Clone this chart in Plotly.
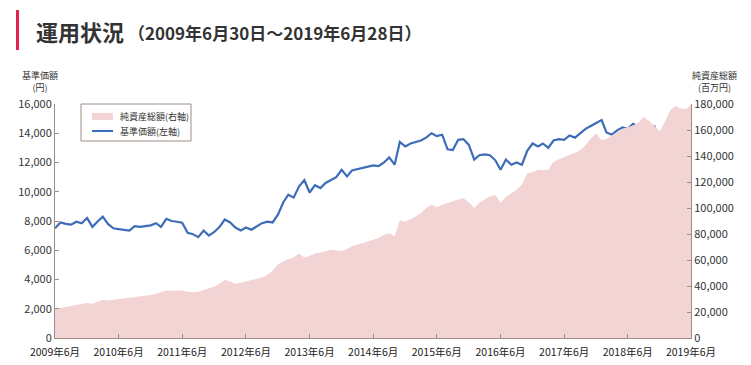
import pandas as pd
import plotly.graph_objects as go

# Month-end dates from 2009-06 to 2019-06
dates = list(pd.date_range("2009-06-30", "2019-06-30", freq="ME").strftime("%Y-%m-%d"))
dates[-1] = "2019-06-28"

# 基準価額 (円, left axis)
nav = [7500, 7900, 7800, 7750, 7950, 7850, 8200, 7600, 7950, 8300,
       7800, 7500, 7450, 7400, 7350, 7650, 7600, 7650, 7700, 7850,
       7600, 8150, 8000, 7950, 7880, 7200, 7100, 6900, 7350, 7000,
       7250, 7600, 8100, 7900, 7550, 7350, 7550, 7400, 7650, 7850,
       7950, 7900, 8450, 9300, 9800, 9600, 10350, 10800, 9950, 10450,
       10250, 10600, 10800, 11000, 11500, 11050, 11450, 11550, 11600, 11700,
       11800, 11750, 12000, 12350, 11850, 13400, 13100, 13300, 13400, 13500,
       13700, 14000, 13800, 13900, 12900, 12850, 13550, 13600, 13200, 12200,
       12500, 12550, 12500, 12150, 11500, 12200, 11850, 12000, 11850, 12800,
       13300, 13100, 13300, 13000, 13500, 13600, 13550, 13850, 13700, 14000,
       14300, 14500, 14700, 14900, 14050, 13900, 14200, 14400, 14300, 14650,
       14450, 14800, 14150, 14450, 13500, 14100, 14400, 14500, 14850, 14350,
       14600]

# 純資産総額 (百万円, right axis)
aum = [22300, 23200, 24000, 25000, 25600, 26200, 26900, 26300, 27800, 29400,
       28800, 29300, 30000, 30300, 30500, 31000, 31800, 32200, 33000, 34000,
       35200, 36500, 36300, 36500, 36600, 35500, 35200, 35600, 36800, 38500,
       39700, 42000, 44800, 43500, 41800, 42500, 43500, 44800, 45800, 46500,
       48500, 52000, 56500, 59000, 60500, 62000, 65000, 62000, 63000, 65000,
       65800, 66500, 67800, 67500, 66800, 68500, 70500, 71800, 73000, 74500,
       75200, 77000, 79500, 80500, 78500, 90500, 89500, 91500, 93500, 96000,
       100000, 102500, 100500, 102500, 104000, 105500, 106500, 107500, 104500, 100000,
       104000, 106500, 108900, 110000, 104000, 108500, 111000, 114000, 118000, 126500,
       127500, 129500, 129000, 129500, 135500, 137500, 139500, 141000, 142500, 144500,
       148500, 153500, 157500, 152000, 153000, 156000, 158500, 161000, 162500, 163500,
       166000, 170000, 167000, 163000, 159000, 167000, 175000, 178500, 176500, 176000,
       179500]

tick_dates = [d for d in dates if d[5:7] == "06"]
tick_text = [f"{int(d[:4])}年6月" for d in tick_dates]

left_ticks = [0, 2000, 4000, 6000, 8000, 10000, 12000, 14000, 16000]
right_ticks = [0, 20000, 40000, 60000, 80000, 100000, 120000, 140000, 160000, 180000]

series_names = ["純資産総額(右軸)", "基準価額(左軸)"]

FONT = "Noto Sans CJK JP"
AXIS_COLOR = "#a08d85"
TEXT = "#333333"
PINK = "#f2d4d4"
BLUE = "#3d6cb9"

fig = go.Figure()
fig.add_trace(go.Scatter(
    x=dates, y=aum, name=series_names[0], yaxis="y2",
    mode="lines", line=dict(width=0, color=PINK),
    fill="tozeroy", fillcolor=PINK))
fig.add_trace(go.Scatter(
    x=dates, y=nav, name=series_names[1], yaxis="y",
    mode="lines", line=dict(width=2.2, color=BLUE)))

# page offset (default body margin) compensation
OFF = 8
W, H = 751 - OFF, 365 - OFF
# target plot area in page pixels: x 55..691, y 104..338
PX0, PX1, PY0, PY1 = 55, 691, 104, 338
L, T = PX0 - OFF, PY0 - OFF
R = W - (PX1 - OFF)
B = H - (PY1 - OFF)
pw, ph = PX1 - PX0, PY1 - PY0

def px(x):
    return (x - PX0) / pw

def py(y):
    return (PY1 - y) / ph

axis_common = dict(showline=True, linecolor=AXIS_COLOR, linewidth=1,
                   ticks="inside", ticklen=4, tickcolor=AXIS_COLOR,
                   showgrid=False, zeroline=False, automargin=False)

shapes = [
    # red title bar
    dict(type="rect", xref="paper", yref="paper",
         x0=px(16), x1=px(19), y0=py(50), y1=py(10),
         fillcolor="#e0234e", line=dict(width=0)),
    # legend box
    dict(type="rect", xref="paper", yref="paper",
         x0=px(81), x1=px(191), y0=py(141), y1=py(104),
         fillcolor="white", line=dict(color=AXIS_COLOR, width=1), layer="above"),
    # legend swatch: area
    dict(type="rect", xref="paper", yref="paper",
         x0=px(92), x1=px(113), y0=py(120), y1=py(113),
         fillcolor=PINK, line=dict(width=0), layer="above"),
    # legend swatch: line
    dict(type="line", xref="paper", yref="paper",
         x0=px(92), x1=px(113), y0=py(131), y1=py(131),
         line=dict(color=BLUE, width=2), layer="above"),
]

annotations = [
    dict(xref="paper", yref="paper", x=px(34), y=py(31),
         xanchor="left", yanchor="middle", showarrow=False,
         text="<b>運用状況</b>",
         font=dict(size=22, color=TEXT, family=FONT)),
    dict(xref="paper", yref="paper", x=px(126), y=py(32),
         xanchor="left", yanchor="middle", showarrow=False,
         text="<b>（2009年6月30日～2019年6月28日）</b>",
         font=dict(size=17, color=TEXT, family=FONT)),
    dict(xref="paper", yref="paper", x=px(40), y=py(82),
         xanchor="center", yanchor="middle", showarrow=False,
         text="基準価額<br>(円)", font=dict(size=9, color=TEXT)),
    dict(xref="paper", yref="paper", x=px(714), y=py(82),
         xanchor="center", yanchor="middle", showarrow=False,
         text="純資産総額<br>(百万円)", font=dict(size=9, color=TEXT)),
    dict(xref="paper", yref="paper", x=px(118), y=py(116.5),
         xanchor="left", yanchor="middle", showarrow=False,
         text=series_names[0], font=dict(size=9, color=TEXT)),
    dict(xref="paper", yref="paper", x=px(118), y=py(131),
         xanchor="left", yanchor="middle", showarrow=False,
         text=series_names[1], font=dict(size=9, color=TEXT)),
]

fig.update_layout(
    width=W, height=H,
    margin=dict(l=L, r=R, t=T, b=B, autoexpand=False),
    paper_bgcolor="white", plot_bgcolor="white",
    font=dict(family=FONT, size=11, color=TEXT),
    showlegend=False,
    xaxis=dict(type="date", range=[dates[0], dates[-1]],
               tickvals=tick_dates, ticktext=tick_text, ticklabelstandoff=4,
               tickfont=dict(size=10.5, color="#222222"), **axis_common),
    yaxis=dict(range=[0, 16000], tickvals=left_ticks, tickformat=",d",
               tickfont=dict(size=11, color=TEXT), **axis_common),
    yaxis2=dict(range=[0, 180000], tickvals=right_ticks, overlaying="y",
                side="right", tickformat=",d",
                tickfont=dict(size=11, color=TEXT), **axis_common),
    shapes=shapes,
    annotations=annotations,
)

fig.write_html("out.html")
